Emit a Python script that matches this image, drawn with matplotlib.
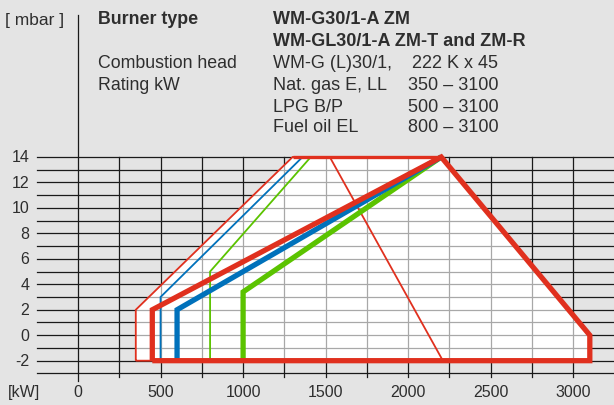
import matplotlib
matplotlib.use("Agg")
import matplotlib.pyplot as plt
from matplotlib.patches import Polygon

# burner working fields, rating kW vs. pressure mbar
envelope_x = [350, 350, 1300, 2200, 3100, 3100]
envelope_y = [-2, 2, 14, 14, 0, -2]

gas_thin_x = [350, 350, 1300, 1525, 2210, 350]
gas_thin_y = [-2, 2, 14, 14, -2, -2]
gas_thick_x = [450, 450, 2200, 3100, 3100, 450]
gas_thick_y = [-2, 2, 14, 0, -2, -2]
top_x = [1300, 2200]
top_y = [14, 14]

lpg_thin_x = [500, 500, 1360]
lpg_thin_y = [-2, 3, 14]
lpg_thick_x = [600, 600, 2200]
lpg_thick_y = [-2, 2, 14]

oil_thin_x = [800, 800, 1410]
oil_thin_y = [-2, 5, 14]
oil_thick_x = [1000, 1000, 2200]
oil_thick_y = [-2, 3.4, 14]

x_ticks = [0, 500, 1000, 1500, 2000, 2500, 3000]
y_ticks = [14, 12, 10, 8, 6, 4, 2, 0, -2]

header_rows = [
    ("Burner type", "WM-G30/1-A ZM", ""),
    ("", "WM-GL30/1-A ZM-T and ZM-R", ""),
    ("Combustion head", "WM-G (L)30/1,    222 K x 45", ""),
    ("Rating kW", "Nat. gas E, LL", "350 – 3100"),
    ("", "LPG B/P", "500 – 3100"),
    ("", "Fuel oil EL", "800 – 3100"),
]

RED = "#e0301e"
BLUE = "#0071bb"
GREEN = "#5bc300"
BG = "#e4e4e4"
TXT = "#2e2e2e"
FONT = "Liberation Sans"

W, H = 614, 406
fig = plt.figure(figsize=(W / 100, H / 100), dpi=100, facecolor=BG)
ax = fig.add_axes([0, 0, 1, 1])
ax.set_facecolor(BG)
# pixel mapping: x=0 at 78 px, 0.1651 px/kW; y=14 at 158 px, 12.73 px/mbar
kx, ky = 0.1651, 12.73
ax.set_xlim(-78 / kx, (W - 78) / kx)
ax.set_ylim(14 - (H - 158) / ky, 14 + 158 / ky)
ax.axis("off")

grid_left, grid_right = -250, 3300
for v in range(-3, 15):
    ax.plot([grid_left, grid_right], [v, v], color="#1a1a1a", lw=0.9, zorder=1)
for v in range(250, 3300, 250):
    ax.plot([v, v], [-3.3, 14], color="#1a1a1a", lw=0.9, zorder=1)
ax.plot([0, 0], [-3.6, 14 + 142 / ky], color="#1a1a1a", lw=0.9, zorder=1)

field = Polygon(list(zip(envelope_x, envelope_y)), closed=True, facecolor="white",
                edgecolor="none", zorder=2)
ax.add_patch(field)
for v in range(-3, 15):
    ln, = ax.plot([grid_left, grid_right], [v, v], color="#a8a8a8", lw=0.9, zorder=3)
    ln.set_clip_path(field)
for v in range(250, 3300, 250):
    ln, = ax.plot([v, v], [-3.3, 14], color="#a8a8a8", lw=0.9, zorder=3)
    ln.set_clip_path(field)

thin = 1.3
thick = 3.8
kw = dict(solid_joinstyle="miter", solid_capstyle="butt")
ax.plot(oil_thin_x, oil_thin_y, color=GREEN, lw=thin, zorder=4, **kw)
ax.plot(lpg_thin_x, lpg_thin_y, color=BLUE, lw=thin, zorder=4, **kw)
ax.plot(gas_thin_x, gas_thin_y, color=RED, lw=thin, zorder=4, **kw)
ax.plot(oil_thick_x, oil_thick_y, color=GREEN, lw=thick, zorder=5, **kw)
ax.plot(lpg_thick_x, lpg_thick_y, color=BLUE, lw=thick, zorder=6, **kw)
ax.plot(top_x, top_y, color=RED, lw=2.4, zorder=7, **kw)
ax.plot(gas_thick_x, gas_thick_y, color=RED, lw=thick, zorder=7, **kw)

label_y = 14 - (393 - 158) / ky
for t in y_ticks:
    ax.text(-295, t, str(t), ha="right", va="center", fontsize=11.5, color=TXT,
            family=FONT)
for t in x_ticks:
    ax.text(t, label_y, str(t), ha="center", va="center", fontsize=11.5, color=TXT,
            family=FONT)
ax.text(-425, label_y, "[kW]", ha="left", va="center", fontsize=11.5, color=TXT,
        family=FONT)

fig.text(5 / W, 1 - 20 / H, "[ mbar ]", ha="left", va="center", fontsize=12.5, color=TXT,
         family=FONT)
row_y = [20, 42, 64, 86, 107, 127]
for (a, b, c), y in zip(header_rows, row_y):
    bold = y < 50
    wt = "bold" if bold else "normal"
    if a:
        fig.text(98 / W, 1 - y / H, a, ha="left", va="center", fontsize=12.8, color=TXT,
                 family=FONT, weight=wt)
    fig.text(273 / W, 1 - y / H, b, ha="left", va="center", fontsize=13, color=TXT,
             family=FONT, weight=wt)
    if c:
        fig.text(408 / W, 1 - y / H, c, ha="left", va="center", fontsize=13, color=TXT,
                 family=FONT)

fig.savefig("out.png", dpi=100, facecolor=BG)
